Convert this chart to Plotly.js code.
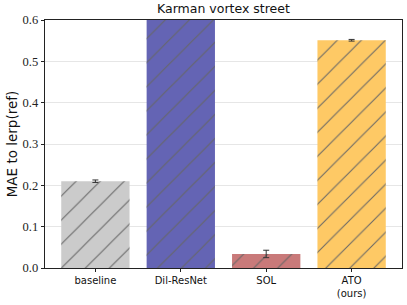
<!DOCTYPE html>
<html><head><meta charset="utf-8">
<script src="https://cdn.plot.ly/plotly-3.0.1.min.js"></script>
<style>html,body{margin:0;padding:0;background:#fff}#c{width:407px;height:305px}</style>
</head><body><div id="c"></div>
<script>
const categories = ['baseline', 'Dil-ResNet', 'SOL', 'ATO<br>(ours)'];
const values = [0.210, 0.75, 0.034, 0.551];
const errors = [0.003, 0.0, 0.009, 0.002];
const colors = ['#cbcbcb', '#6464b4', '#c97a7a', '#fec965'];
const yTicks = [0.0, 0.1, 0.2, 0.3, 0.4, 0.5, 0.6];

const fillTrace = {
  type: 'bar',
  x: categories,
  y: values,
  width: 0.8,
  marker: {color: colors, line: {width: 0}},
  hoverinfo: 'none'
};
const hatchTrace = {
  type: 'bar',
  x: categories,
  y: values,
  width: 0.8,
  marker: {
    color: 'rgba(0,0,0,0)',
    line: {width: 0},
    pattern: {shape: '/', fillmode: 'replace', bgcolor: 'rgba(0,0,0,0)', fgcolor: '#666666', fgopacity: 1, size: 17, solidity: 0.06}
  },
  error_y: {type: 'data', array: errors, visible: true, color: '#333', thickness: 1, width: 3},
  hoverinfo: 'none'
};

const layout = {
  width: 407, height: 305,
  margin: {l: 45, r: 5, t: 20, b: 37},
  paper_bgcolor: '#fff', plot_bgcolor: '#fff',
  showlegend: false,
  barmode: 'overlay',
  title: {text: 'Karman vortex street', font: {family: 'DejaVu Sans', size: 12.5, color: '#111'}, x: 0.549, xanchor: 'center', y: 0.985, yanchor: 'top'},
  xaxis: {
    range: [-0.59, 3.59],
    showline: true, linecolor: '#222', linewidth: 1.3, mirror: true,
    ticks: 'outside', ticklen: 3, tickcolor: '#222',
    tickfont: {family: 'DejaVu Sans', size: 10, color: '#111'},
    showgrid: false, zeroline: false, fixedrange: true
  },
  yaxis: {
    range: [0, 0.6],
    tickvals: yTicks,
    ticktext: yTicks.map(v => v.toFixed(1)),
    showline: true, linecolor: '#222', linewidth: 1.3, mirror: true,
    ticks: 'outside', ticklen: 3, tickcolor: '#222',
    tickfont: {family: 'Liberation Serif', size: 12.5, color: '#222'},
    showgrid: true, gridcolor: '#e6e6e6', gridwidth: 1,
    zeroline: false,
    title: {text: 'MAE to lerp(ref)', font: {family: 'DejaVu Sans', size: 13.5, color: '#111'}, standoff: 2},
    fixedrange: true
  }
};

Plotly.newPlot('c', [fillTrace, hatchTrace], layout, {staticPlot: true, displayModeBar: false});
</script></body></html>
